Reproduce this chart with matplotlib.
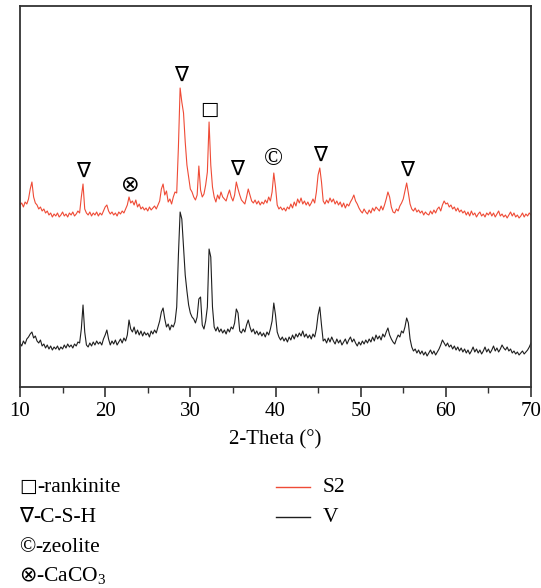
import numpy as np
import matplotlib
matplotlib.use("Agg")
import matplotlib.pyplot as plt
from matplotlib.lines import Line2D
from matplotlib.ticker import MultipleLocator

plt.rcParams["font.family"] = ["Liberation Serif", "DejaVu Serif", "DejaVu Sans"]
plt.rcParams["mathtext.fontset"] = "custom"
plt.rcParams["mathtext.rm"] = "Liberation Serif"
plt.rcParams["mathtext.it"] = "Liberation Serif:italic"

# ---------------- data ----------------
two_theta = np.round(np.arange(10.0, 70.0001, 0.2), 1)

s2 = [
    182, 184, 180, 185, 183,  # 10
    188, 198, 205, 190, 184,  # 11
    182, 178, 180, 176, 178,  # 12
    174, 176, 172, 174, 170,  # 13
    173, 171, 174, 170, 172,  # 14
    175, 171, 173, 170, 174,  # 15
    172, 175, 171, 173, 176,  # 16
    174, 190, 203, 178, 174,  # 17
    172, 175, 171, 174, 172,  # 18
    175, 171, 174, 172, 176,  # 19
    180, 182, 176, 173, 175,  # 20
    172, 174, 171, 175, 173,  # 21
    176, 174, 178, 182, 190,  # 22
    184, 186, 182, 187, 180,  # 23
    183, 178, 180, 177, 179,  # 24
    176, 180, 177, 179, 181,  # 25
    178, 182, 186, 198, 203,  # 26
    192, 196, 185, 188, 183,  # 27
    190, 195, 194, 240, 299,  # 28
    285, 274, 245, 222, 210,  # 29
    198, 195, 190, 187, 192,  # 30
    221, 197, 190, 193, 202,  # 31
    215, 265, 222, 200, 190,  # 32
    185, 192, 188, 195, 190,  # 33
    188, 186, 192, 197, 190,  # 34
    186, 192, 205, 198, 192,  # 35
    187, 185, 183, 190, 198,  # 36
    192, 186, 184, 187, 183,  # 37
    186, 182, 185, 183, 187,  # 38
    184, 190, 186, 195, 214,  # 39
    200, 182, 178, 180, 177,  # 40
    179, 176, 180, 178, 183,  # 41
    179, 185, 181, 188, 184,  # 42
    189, 183, 186, 182, 185,  # 43
    181, 184, 188, 184, 195,  # 44
    212, 219, 205, 186, 183,  # 45
    187, 184, 189, 185, 188,  # 46
    183, 186, 182, 185, 180,  # 47
    184, 179, 183, 181, 185,  # 48
    188, 192, 186, 183, 179,  # 49
    176, 174, 178, 175, 173,  # 50
    177, 174, 179, 176, 180,  # 51
    178, 176, 181, 177, 182,  # 52
    188, 195, 190, 180, 175,  # 53
    174, 178, 176, 181, 184,  # 54
    188, 196, 204, 194, 183,  # 55
    178, 176, 179, 175, 177,  # 56
    174, 176, 172, 175, 173,  # 57
    172, 176, 173, 177, 174,  # 58
    178, 180, 176, 182, 186,  # 59
    183, 184, 180, 182, 178,  # 60
    180, 176, 179, 175, 177,  # 61
    174, 176, 172, 175, 171,  # 62
    176, 172, 174, 170, 173,  # 63
    175, 171, 173, 170, 174,  # 64
    172, 175, 171, 174, 170,  # 65
    173, 176, 171, 173, 170,  # 66
    172, 169, 172, 175, 171,  # 67
    174, 170, 172, 169, 171,  # 68
    174, 170, 173, 171, 174,  # 69
    172,                      # 70
]

v = [
    44, 41, 46, 43, 48,  # 10
    50, 53, 55, 49, 51,  # 11
    46, 44, 47, 41, 43,  # 12
    39, 42, 38, 41, 37,  # 13
    40, 38, 41, 37, 40,  # 14
    38, 42, 39, 43, 40,  # 15
    42, 39, 43, 41, 45,  # 16
    44, 58, 82, 55, 42,  # 17
    40, 44, 41, 45, 42,  # 18
    46, 43, 45, 42, 48,  # 19
    52, 57, 48, 42, 46,  # 20
    43, 47, 42, 45, 48,  # 21
    44, 49, 46, 52, 67,  # 22
    58, 55, 60, 53, 57,  # 23
    52, 56, 51, 55, 52,  # 24
    54, 50, 56, 53, 57,  # 25
    54, 60, 66, 75, 79,  # 26
    68, 60, 63, 57, 62,  # 27
    60, 65, 80, 132, 175,  # 28
    168, 140, 112, 96, 82,  # 29
    74, 70, 68, 64, 70,  # 30
    88, 90, 62, 58, 66,  # 31
    80, 138, 130, 80, 60,  # 32
    56, 60, 55, 58, 54,  # 33
    57, 53, 58, 55, 60,  # 34
    58, 64, 78, 74, 56,  # 35
    54, 58, 55, 62, 67,  # 36
    60, 55, 58, 53, 56,  # 37
    52, 55, 51, 54, 50,  # 38
    55, 52, 58, 66, 84,  # 39
    72, 55, 50, 47, 50,  # 40
    46, 49, 45, 50, 47,  # 41
    52, 48, 53, 50, 54,  # 42
    51, 56, 50, 53, 49,  # 43
    52, 48, 53, 50, 58,  # 44
    72, 80, 62, 46, 48,  # 45
    44, 49, 45, 50, 46,  # 46
    43, 48, 44, 47, 42,  # 47
    45, 48, 43, 47, 50,  # 48
    45, 48, 44, 41, 45,  # 49
    42, 46, 43, 47, 44,  # 50
    48, 45, 50, 46, 52,  # 51
    48, 51, 47, 53, 50,  # 52
    55, 59, 52, 48, 45,  # 53
    43, 48, 52, 50, 56,  # 54
    54, 60, 69, 64, 48,  # 55
    40, 36, 38, 34, 37,  # 56
    33, 36, 32, 35, 31,  # 57
    34, 37, 33, 36, 32,  # 58
    35, 38, 42, 47, 44,  # 59
    41, 44, 40, 42, 38,  # 60
    41, 37, 40, 36, 39,  # 61
    35, 38, 34, 37, 33,  # 62
    36, 40, 35, 38, 34,  # 63
    37, 33, 36, 40, 35,  # 64
    38, 34, 37, 41, 36,  # 65
    39, 35, 38, 42, 39,  # 66
    37, 40, 36, 38, 34,  # 67
    36, 33, 35, 32, 34,  # 68
    36, 33, 35, 37, 40,  # 69
    44,                  # 70
]

phase_symbols = ["∇", "⊗", "∇", "□", "∇", "©", "∇", "∇"]
phase_peaks = [17.4, 23.0, 28.9, 32.2, 35.5, 39.8, 45.2, 55.4]

legend_symbols = ["□", "∇", "©", "⊗"]
legend_names = ["-rankinite", "-C-S-H", "-zeolite", "-CaCO$_3$"]
series_labels = ["S2", "V"]
series_colors = ["#ef4b36", "#1e1e1e"]
x_ticks = [10, 20, 30, 40, 50, 60, 70]

# ---------------- figure ----------------
W, H = 541, 588
fig = plt.figure(figsize=(W / 100, H / 100), dpi=100)
ax = fig.add_axes([20 / W, 1 - 387 / H, 511 / W, 381 / H])

s2_arr = np.array(s2, dtype=float)
v_arr = np.array(v, dtype=float)
ax.plot(two_theta, s2_arr, color=series_colors[0], lw=0.8)
ax.plot(two_theta, v_arr, color=series_colors[1], lw=0.8)

ax.set_xlim(10, 70)
ax.set_ylim(0, 381)
ax.set_yticks([])
ax.set_xticks(x_ticks)
ax.xaxis.set_minor_locator(MultipleLocator(5))
ax.tick_params(axis="x", which="major", direction="out", length=7, width=1.2,
               labelsize=15, pad=4, color="#333333")
ax.tick_params(axis="x", which="minor", direction="out", length=4, width=1.0,
               color="#333333")
for sp in ax.spines.values():
    sp.set_linewidth(1.3)
    sp.set_color("#333333")
ax.set_xlabel("2-Theta (°)", fontsize=15, labelpad=6)

sym_font = {"∇": (["DejaVu Sans"], 15), "⊗": (["DejaVu Sans"], 16),
            "□": (["DejaVu Sans"], 14), "©": (["Liberation Serif"], 18)}
for sym, xp in zip(phase_symbols, phase_peaks):
    m = np.abs(two_theta - xp) <= 0.31
    ytop = s2_arr[m].max()
    fam, fs = sym_font[sym]
    ax.annotate(sym, (xp, ytop), xytext=(0, 2), textcoords="offset points",
                ha="center", va="bottom", fontsize=fs, family=fam)

# phase legend (left column)
row_y = [487, 517, 547, 576]
fig.canvas.draw()
renderer = fig.canvas.get_renderer()
leg_sym_font = {"□": (["DejaVu Sans"], 13.5), "∇": (["DejaVu Sans"], 15),
                "©": (["Liberation Serif"], 15.5), "⊗": (["DejaVu Sans"], 15)}
for sym, name, yy in zip(legend_symbols, legend_names, row_y):
    yb = 1 - (yy + 5) / H
    fam, fs = leg_sym_font[sym]
    t = fig.text(19 / W, yb, sym, ha="left", va="baseline",
                 fontsize=fs, family=fam)
    bb = t.get_window_extent(renderer)
    fig.text(bb.x1 / W, yb, name, ha="left", va="baseline", fontsize=15.5)

# series legend (right column)
for lab, col, yy in zip(series_labels, series_colors, row_y[:2]):
    fig.add_artist(Line2D([276 / W, 310 / W], [1 - yy / H, 1 - yy / H],
                          transform=fig.transFigure, color=col, lw=1.0))
    fig.text(323 / W, 1 - (yy + 5) / H, lab, ha="left", va="baseline",
             fontsize=15.5)

fig.savefig("out.png", dpi=100)
